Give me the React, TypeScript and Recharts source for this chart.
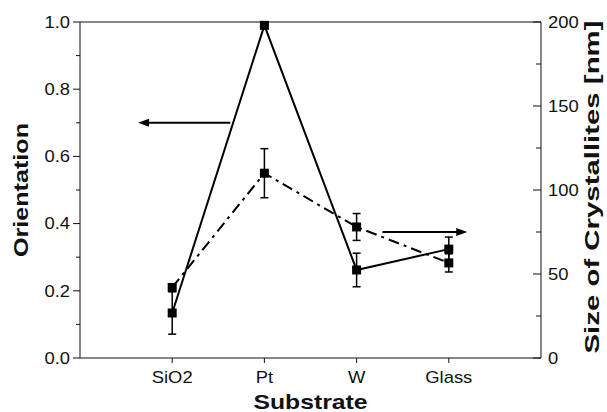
import { ComposedChart, Line, XAxis, YAxis, ErrorBar, ReferenceLine, Label } from 'recharts';

const FONT = "'Liberation Sans', Arial, Helvetica, sans-serif";
const INK = '#111';

// values
const substrates = ['SiO2', 'Pt', 'W', 'Glass'];
const orientation = [0.134, 0.99, 0.262, 0.324];
const orientationErr = [0.063, 0, 0.05, 0.036];
const crystalSize = [42, 110, 78, 56.6];
const crystalSizeErr = [0, 14.6, 8, 5.4];

const xTicks = [1, 2, 3, 4];
const leftTicks = [0, 0.1, 0.2, 0.3, 0.4, 0.5, 0.6, 0.7, 0.8, 0.9, 1.0];
const rightTicks = [0, 25, 50, 75, 100, 125, 150, 175, 200];

// annotation arrows: [tail, tip]
const orientationArrow = [{ x: 1.63, y: 0.7 }, { x: 0.63, y: 0.7 }];
const sizeArrow = [{ x: 3.28, y: 75 }, { x: 4.2, y: 75 }];

const data = substrates.map((name, i) => ({
  x: i + 1,
  name,
  orientation: orientation[i],
  orientationErr: orientationErr[i],
  size: crystalSize[i],
  sizeErr: crystalSizeErr[i],
}));

const square = (props: any) => (
  <rect key={`sq-${props.index}`} x={props.cx - 4.5} y={props.cy - 4.5} width={9} height={9} fill="#000" />
);

function LeftTick(props: any) {
  const { x, y, payload } = props;
  const major = Math.round(payload.value * 10) % 2 === 0;
  return (
    <g>
      <line x1={x - (major ? 7 : 4)} x2={x} y1={y} y2={y} stroke={INK} />
      {major && (
        <text transform={`translate(${x - 10},${y}) scale(1.15,1)`} textAnchor="end" dy="0.36em"
          fontSize={16} fontFamily={FONT} fill={INK}>
          {payload.value.toFixed(1)}
        </text>
      )}
    </g>
  );
}

function RightTick(props: any) {
  const { x, y, payload } = props;
  const major = payload.value % 50 === 0;
  return (
    <g>
      <line x1={x - (major ? 8 : 5)} x2={x} y1={y} y2={y} stroke={INK} />
      {major && (
        <text transform={`translate(${x + 7},${y}) scale(1.15,1)`} textAnchor="start" dy="0.36em"
          fontSize={16} fontFamily={FONT} fill={INK}>
          {payload.value}
        </text>
      )}
    </g>
  );
}

function BottomTick(props: any) {
  const { x, y, payload } = props;
  return (
    <g>
      <line x1={x} x2={x} y1={y} y2={y + 5} stroke={INK} />
      <text transform={`translate(${x},${y + 25}) scale(1.15,1)`} textAnchor="middle"
        fontSize={16} fontFamily={FONT} fill={INK}>
        {substrates[payload.value - 1]}
      </text>
    </g>
  );
}

function arrow(p: any) {
  const { x1, y1, x2, y2 } = p;
  const dir = Math.sign(x2 - x1);
  return (
    <g>
      <line x1={x1} y1={y1} x2={x2 - dir * 8} y2={y2} stroke="#000" strokeWidth={2} />
      <polygon points={`${x2},${y2} ${x2 - dir * 11},${y2 - 4} ${x2 - dir * 11},${y2 + 4}`} fill="#000" />
    </g>
  );
}

export default function App() {
  return (
    <div style={{ position: 'absolute', left: 0, top: 0, background: 'white' }}>
      <ComposedChart width={607} height={412} data={data} margin={{ top: 22, right: 0, bottom: 0, left: 0 }}>
        <XAxis dataKey="x" type="number" domain={[0, 5]} ticks={xTicks} height={54}
          stroke={INK} tickLine={false} tickSize={0} tickMargin={0} tick={<BottomTick />}>
          <Label content={(p: any) => {
            const vb = p.viewBox;
            return (
              <text x={vb.x + vb.width / 2} y={vb.y + 51} textAnchor="middle" fontSize={21} fontWeight="bold"
                fontFamily={FONT} fill={INK} textLength={114} lengthAdjust="spacingAndGlyphs">Substrate</text>
            );
          }} />
        </XAxis>
        <YAxis yAxisId="left" domain={[0, 1]} ticks={leftTicks} width={80} stroke={INK}
          tickLine={false} tickSize={0} tickMargin={0} tick={<LeftTick />}>
          <Label content={(p: any) => {
            const vb = p.viewBox;
            const cx = 20;
            const cy = vb.y + vb.height / 2;
            return (
              <text x={cx} y={cy} transform={`rotate(-90,${cx},${cy})`} textAnchor="middle" dy="0.36em"
                fontSize={21} fontWeight="bold" fontFamily={FONT} fill={INK}
                textLength={134} lengthAdjust="spacingAndGlyphs">Orientation</text>
            );
          }} />
        </YAxis>
        <YAxis yAxisId="right" orientation="right" domain={[0, 200]} ticks={rightTicks} width={66} stroke={INK}
          tickLine={false} tickSize={0} tickMargin={0} tick={<RightTick />}>
          <Label content={(p: any) => {
            const vb = p.viewBox;
            const cx = 592;
            const cy = vb.y + vb.height / 2 - 3;
            return (
              <text x={cx} y={cy} transform={`rotate(-90,${cx},${cy})`} textAnchor="middle" dy="0.36em"
                fontSize={20} fontWeight="bold" fontFamily={FONT} fill={INK}
                textLength={333} lengthAdjust="spacingAndGlyphs">Size of Crystallites [nm]</text>
            );
          }} />
        </YAxis>
        <ReferenceLine yAxisId="left" y={1} stroke={INK} />
        <ReferenceLine yAxisId="left" segment={orientationArrow} shape={arrow} />
        <ReferenceLine yAxisId="right" segment={sizeArrow} shape={arrow} />
        <Line yAxisId="right" dataKey="size" type="linear" stroke="#000" strokeWidth={2}
          strokeDasharray="11 5 3 5" dot={square} activeDot={false} isAnimationActive={false}>
          <ErrorBar dataKey="sizeErr" width={4} stroke="#000" strokeWidth={1.5} />
        </Line>
        <Line yAxisId="left" dataKey="orientation" type="linear" stroke="#000" strokeWidth={2}
          dot={square} activeDot={false} isAnimationActive={false}>
          <ErrorBar dataKey="orientationErr" width={4} stroke="#000" strokeWidth={1.5} />
        </Line>
      </ComposedChart>
    </div>
  );
}
